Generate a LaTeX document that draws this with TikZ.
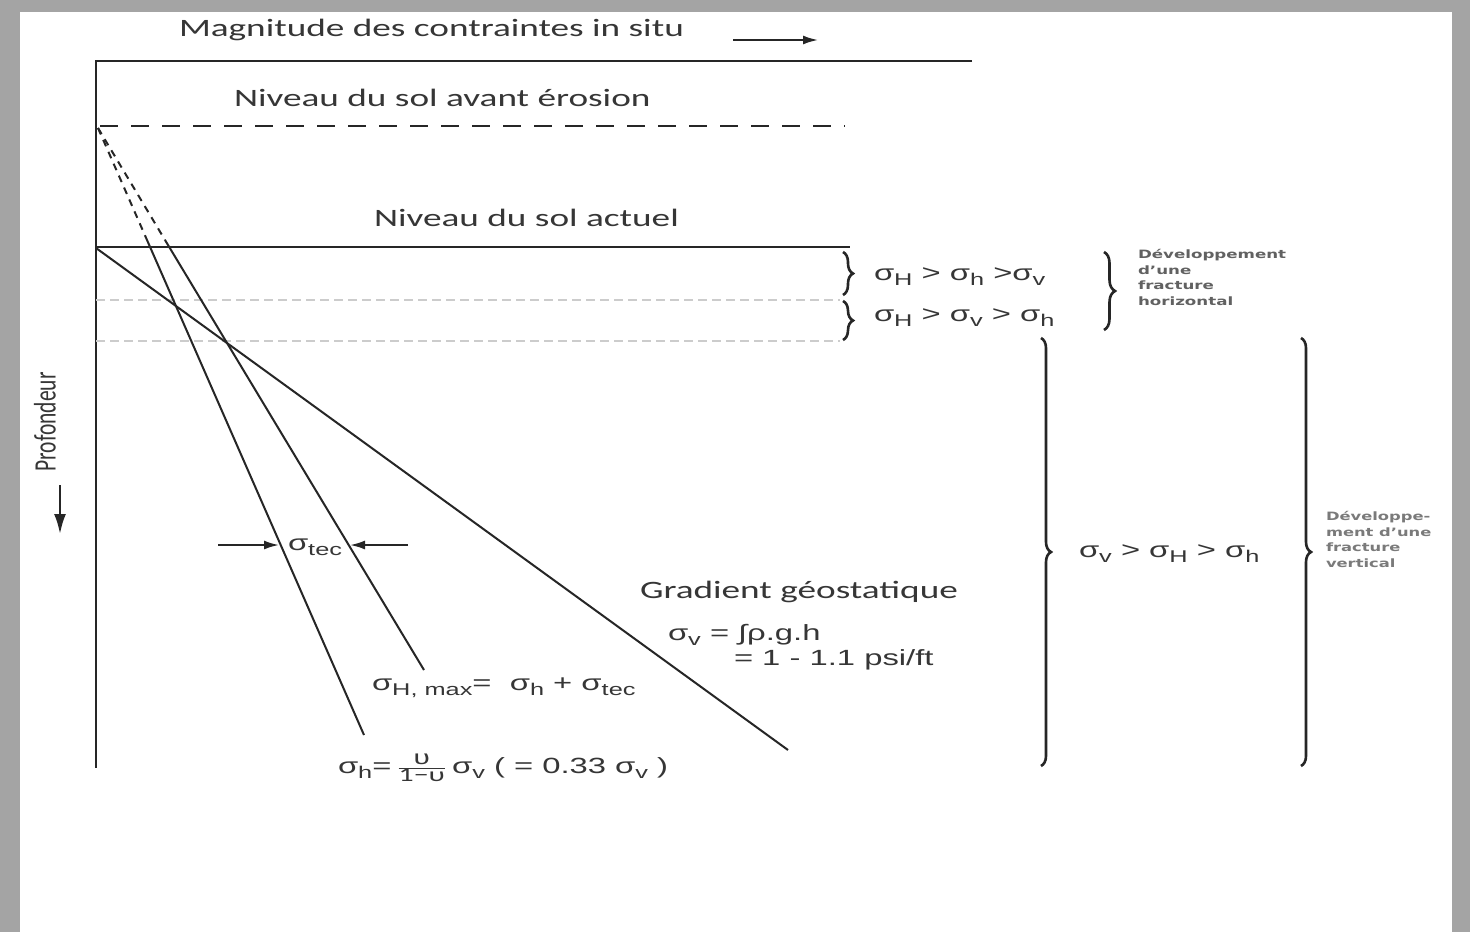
\documentclass[tikz,border=0pt]{standalone}
\usepackage{graphicx}
\usepackage{fontspec}
\setmainfont{Carlito}
\newfontfamily\arialf{Liberation Sans}
\newfontfamily\verdf{DejaVu Sans}
\usetikzlibrary{arrows.meta,decorations.pathreplacing}
\newcommand\hs[1]{\scalebox{1.49}[1]{#1}}
\newcommand\ssub[1]{\raisebox{-0.5ex}{\fontsize{17}{17}\selectfont #1}}
\newcommand\sgm[1]{σ\ssub{#1}}
\definecolor{framegray}{HTML}{A4A4A4}
\definecolor{ink}{HTML}{262626}
\definecolor{txt}{HTML}{363636}
\begin{document}
\begin{tikzpicture}[x=1pt,y=-1pt,line width=2pt,draw=ink,
  lbl/.style={font=\fontsize{25}{25}\selectfont,text=txt,inner sep=0pt,anchor=base west},
  frm/.style={font=\arialf\fontsize{22}{22}\selectfont,text=txt,inner sep=0pt,anchor=base west},
  small/.style={font=\verdf\bfseries\fontsize{11.5}{15.5}\selectfont,text=black!62,inner sep=0pt,anchor=north west},
  brc/.style={decorate,decoration={brace,amplitude=#1},line width=2.6pt},
  brc/.default=10,
  arr/.style={-{Latex[length=15pt,width=9pt]},line width=2pt},
  bigarr/.style={-{Latex[length=20pt,width=12pt]},line width=2.4pt},
  lightdash/.style={draw=gray!40,line width=1.3pt,dash pattern=on 9pt off 5pt}]
\fill[framegray] (0,0) rectangle (1470,932);
\fill[white] (20,12) rectangle (1452,932);
\useasboundingbox (0,0) rectangle (1470,932);
% axes
\coordinate (O) at (96,61);
\coordinate (TR) at (972,61);
\coordinate (BL) at (96,768);
\draw (TR) -- (O) -- (BL);
% title
\node[lbl] (title) at (178,36) {\hs{Magnitude des contraintes in situ}};
\coordinate (a1) at (733,40);
\coordinate (a2) at (818,40);
\draw[arr] (a1) -- (a2);
% levels
\node[lbl] (avant) at (233,106) {\hs{Niveau du sol avant érosion}};
\coordinate (d0) at (100,126);
\coordinate (d1) at (845,126);
\draw[dash pattern=on 18pt off 13pt] (d0) -- (d1);
\node[lbl] (actuel) at (373,226) {\hs{Niveau du sol actuel}};
\coordinate (s0) at (96,247);
\coordinate (s1) at (850,247);
\draw (s0) -- (s1);
\coordinate (l0) at (96,300);
\coordinate (l1) at (840,300);
\coordinate (m0) at (96,341);
\coordinate (m1) at (840,341);
\draw[lightdash] (l0) -- (l1);
\draw[lightdash] (m0) -- (m1);
% stress lines
\coordinate (P) at (98,128);
\coordinate (h0) at (147,240);
\coordinate (h1) at (364,735);
\coordinate (H0) at (165,240);
\coordinate (H1) at (424,670);
\coordinate (g0) at (96,248);
\coordinate (g1) at (788,750);
\draw[dash pattern=on 7pt off 6pt] (P) -- (h0);
\draw[dash pattern=on 7pt off 6pt] (P) -- (H0);
\draw (h0) -- (h1);
\draw (H0) -- (H1);
\draw (g0) -- (g1);
% sigma tec
\coordinate (t0) at (218,545);
\coordinate (t1) at (279,545);
\coordinate (t2) at (408,545);
\coordinate (t3) at (350,545);
\draw[arr] (t0) -- (t1);
\draw[arr] (t2) -- (t3);
\node[frm] (stec) at (287,550) {\hs{\sgm{tec}}};
% depth
\node[rotate=90,font=\fontsize{21.5}{21.5}\selectfont,text=txt,inner sep=0pt] (prof) at (45,422) {\scalebox{1}[1.45]{Profondeur}};
\coordinate (p0) at (60,485);
\coordinate (p1) at (60,534);
\draw[bigarr] (p0) -- (p1);
% braces
\coordinate (b1a) at (843,252);
\coordinate (b1b) at (843,295);
\coordinate (b2a) at (843,301);
\coordinate (b2b) at (843,340);
\coordinate (b3a) at (1104,252);
\coordinate (b3b) at (1104,330);
\coordinate (b4a) at (1041,338);
\coordinate (b4b) at (1041,766);
\coordinate (b5a) at (1301,338);
\coordinate (b5b) at (1301,766);
\draw[brc=10] (b1a) -- (b1b);
\draw[brc=10] (b2a) -- (b2b);
\draw[brc=11] (b3a) -- (b3b);
\draw[brc=10] (b4a) -- (b4b);
\draw[brc=10] (b5a) -- (b5b);
\node[frm] (r1) at (873,280) {\hs{\sgm{H} > \sgm{h} >\sgm{v}}};
\node[frm] (r2) at (873,321) {\hs{\sgm{H} > \sgm{v} > \sgm{h}}};
\node[frm] (r3) at (1078,557) {\hs{\sgm{v} > \sgm{H} > \sgm{h}}};
\node[small] (dh) at (1137,247) {\scalebox{1.45}[1]{\begin{tabular}{@{}l@{}}Développement\\d’une\\fracture\\horizontal\end{tabular}}};
\node[small,text=black!52] (dv) at (1325,509) {\scalebox{1.42}[1]{\begin{tabular}{@{}l@{}}Développe-\\ment d’une\\fracture\\vertical\end{tabular}}};
% gradient labels
\node[lbl] (grad) at (639,598) {\hs{Gradient géostatique}};
\node[frm] (sv) at (667,640) {\hs{\sgm{v} = ∫ρ.g.h}};
\node[frm] (sv2) at (733,665) {\hs{= 1 - 1.1 psi/ft}};
\node[frm] (shm) at (371,690) {\hs{\sgm{H, max}=\ \ \sgm{h} + \sgm{tec}}};
\node[frm] (shf) at (337,773) {\hs{\sgm{h}=\,$\frac{\hbox{\arialf\fontsize{20}{20}\selectfont υ}}{\hbox{\fontsize{20}{20}\selectfont\rmfamily 1−υ}}$\,\sgm{v} ( = 0.33 \sgm{v} )}};
\end{tikzpicture}
\end{document}
